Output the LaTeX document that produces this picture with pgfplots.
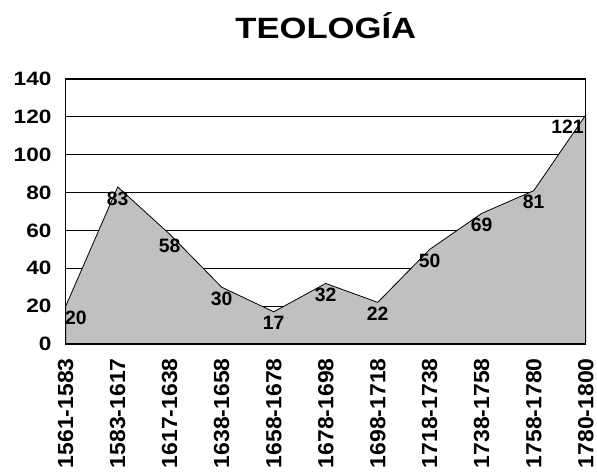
\documentclass[border=0pt]{standalone}
\usepackage{fontspec}
\setmainfont{Liberation Sans}
\newfontfamily\yfont[FakeStretch=1.17]{Liberation Sans}
\newfontfamily\xfont[FakeStretch=1.05]{Liberation Sans}
\newfontfamily\tfont[FakeStretch=1.18]{Liberation Sans}
\usepackage{pgfplots}
\pgfplotsset{compat=1.18}
\definecolor{areagray}{HTML}{C0C0C0}
\begin{document}
\begin{tikzpicture}
\useasboundingbox (-49.3pt,-96pt) rectangle (398.45pt,258pt);
\begin{axis}[
  scale only axis, width=390pt, height=198.75pt,
  xmin=0, xmax=10, ymin=0, ymax=140,
  ytick={0,20,...,140},
  xtick={0,...,10},
  xticklabels={1561-1583,1583-1617,1617-1638,1638-1658,1658-1678,1678-1698,1698-1718,1718-1738,1738-1758,1758-1780,1780-1800},
  ymajorgrids, grid style={black, line width=0.6pt},
  axis line style={black, line width=1pt},
  major tick length=0pt,
  /pgf/number format/assume math mode=true,
  yticklabel style={font=\fontsize{14.5}{16}\selectfont\yfont\bfseries, anchor=east, inner sep=0pt},
  yticklabel shift=10.5pt,
  xticklabel style={font=\fontsize{16.4}{18}\selectfont\xfont\bfseries, rotate=90, anchor=east, inner sep=0pt},
  xticklabel shift=10.5pt,
  clip=false,
  nodes near coords style={font=\fontsize{14.5}{16}\selectfont\bfseries},
]
\addplot[fill=areagray, draw=black, line width=0.6pt] coordinates {
(0,20) (1,83) (2,58) (3,30) (4,17) (5,32) (6,22) (7,50) (8,69) (9,81) (10,121)} \closedcycle;
\addplot[draw=none, mark=none, nodes near coords, point meta=y, nodes near coords style={anchor=north}] coordinates {
(1,83) (2,58) (3,30) (4,17) (5,32) (6,22) (7,50) (8,69) (9,81)};
\addplot[draw=none, mark=none, nodes near coords, point meta=y, nodes near coords style={anchor=north west, xshift=-4pt}] coordinates {(0,20)};
\addplot[draw=none, mark=none, nodes near coords, point meta=y, nodes near coords style={anchor=north east, xshift=2pt}] coordinates {(10,121)};
\draw[black, line width=1pt] (rel axis cs:0,0) rectangle (rel axis cs:1,1);
\node[font=\fontsize{22}{26}\selectfont\tfont\bfseries, anchor=base] at (rel axis cs:0.5,1) [yshift=30.75pt] {TEOLOGÍA};
\end{axis}
\end{tikzpicture}
\end{document}
